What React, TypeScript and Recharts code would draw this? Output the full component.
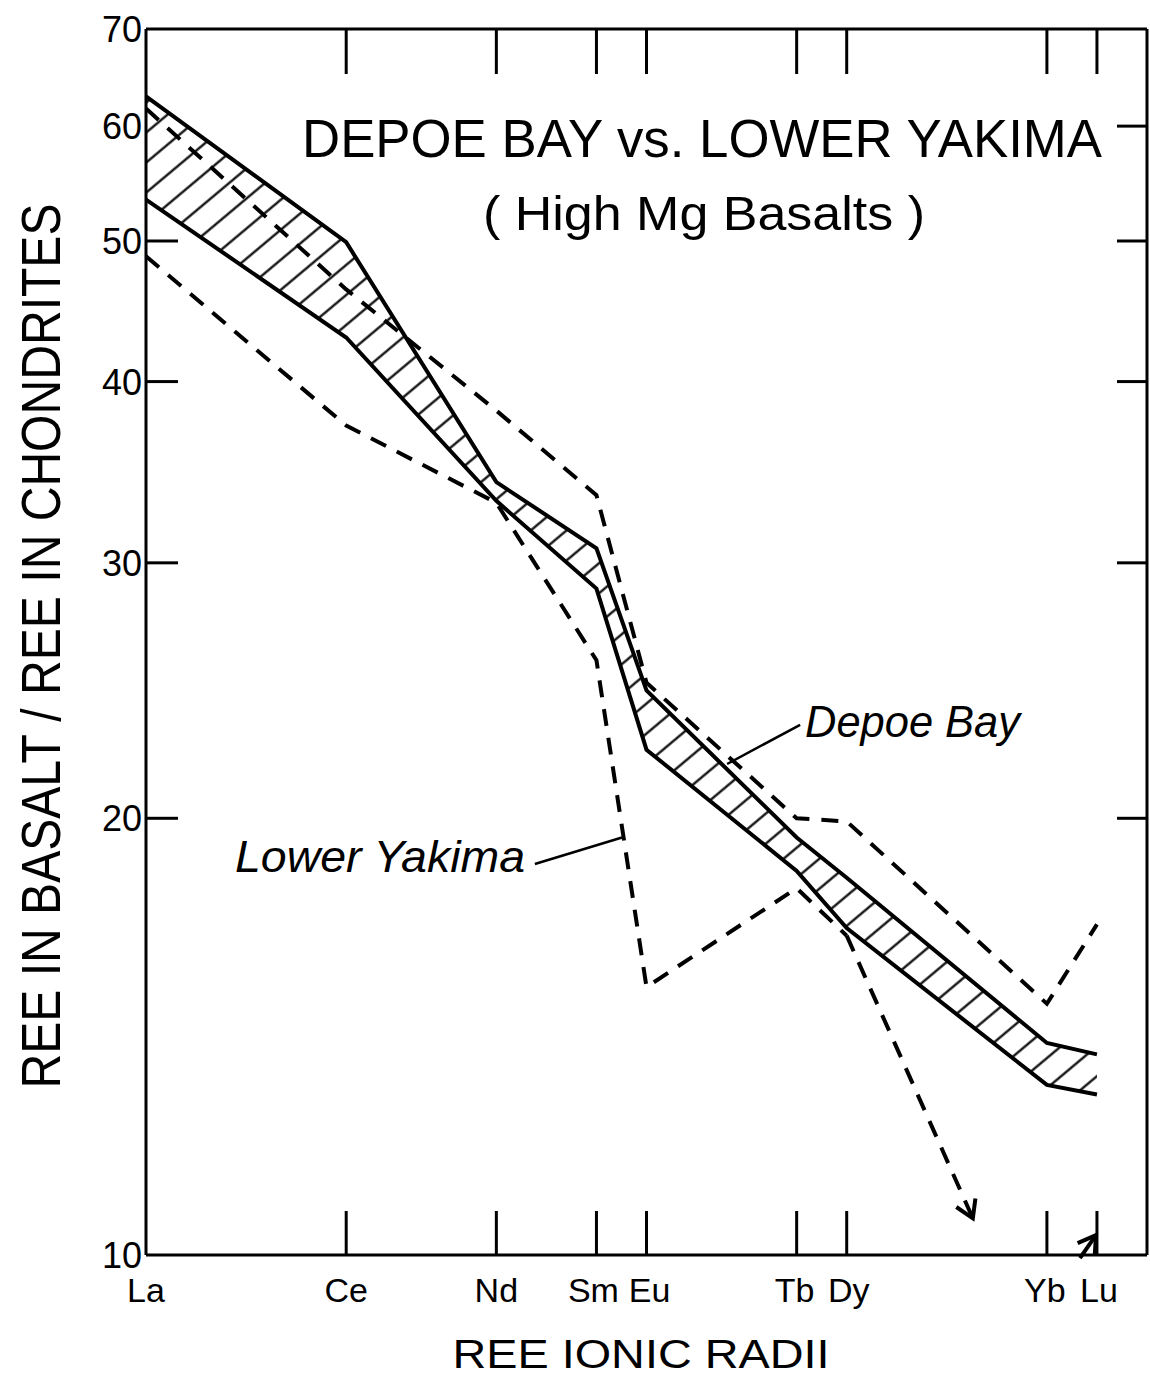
import React from "react";
import { Area, ComposedChart, Line, ReferenceLine, XAxis, YAxis } from "recharts";

const FONT = "'Liberation Sans', Arial, sans-serif";
const INK = "#000";

// REE in order of decreasing ionic radius, with their spacing along the x axis
const elements = ["La", "Ce", "Nd", "Sm", "Eu", "Tb", "Dy", "Yb", "Lu"];
const radiusPos = [0, 4, 7, 9, 10, 13, 14, 18, 19];
// small sideways nudges so close pairs of names don't touch
const labelNudge = [0, 0, 0, -3, 3, -2, 2, -2, 2];

// chondrite-normalised abundances (upper and lower bounds of each field)
const depoeBayHigh = [62.9, 49.9, 34.1, 30.7, 24.5, 19.4, 18.2, 14.0, 13.75];
const depoeBayLow = [53.4, 42.9, 33.1, 28.8, 22.3, 18.4, 16.8, 13.1, 12.9];
const yakimaHigh = [61.7, 46.3, 38.2, 33.4, 24.8, 20.0, 19.9, 14.9, 16.9];
const yakimaLow: (number | null)[] = [48.8, 37.3, 33.0, 25.7, 15.3, 17.9, 16.6, null, null];

const yTicks = [10, 20, 30, 40, 50, 60, 70];
const rightTicks = [20, 30, 40, 50, 60];

// Lower Yakima minimum falls off scale after Dy; arrows mark where it goes
const ybArrowEnd = { x: 16.52, y: 10.6 };
const luArrow = [
  { x: 18.66, y: 9.95 },
  { x: 18.98, y: 10.32 }
];

// leader lines for the two field labels
const depoeLeader = [
  { x: 11.61, y: 21.8 },
  { x: 13.07, y: 23.2 }
];
const yakimaLeader = [
  { x: 7.77, y: 18.6 },
  { x: 9.51, y: 19.4 }
];

const rows = elements.map((name, i) => ({
  name,
  pos: radiusPos[i],
  band: [depoeBayLow[i], depoeBayHigh[i]],
  depoeHigh: depoeBayHigh[i],
  depoeLow: depoeBayLow[i],
  yakimaHigh: yakimaHigh[i],
  yakimaLow: yakimaLow[i]
}));

const indexAt = (pos: number) => radiusPos.indexOf(pos);

function LeftTick(props: any) {
  const { x, y, payload } = props;
  const v = payload.value;
  const showLine = v > 10 && v < 60;
  return (
    <g>
      {showLine && <line x1={x} y1={y} x2={x + 32} y2={y} stroke={INK} strokeWidth={3} />}
      <text x={x - 4} y={y} dy="0.36em" textAnchor="end" fontSize={36} fontFamily={FONT} fill={INK}>
        {v}
      </text>
    </g>
  );
}

function RightTick(props: any) {
  const { x, y } = props;
  return <line x1={x} y1={y} x2={x - 30} y2={y} stroke={INK} strokeWidth={3} />;
}

function BottomTick(props: any) {
  const { x, y, payload } = props;
  const i = indexAt(payload.value);
  return (
    <g>
      {payload.value > 0 && <line x1={x} y1={y} x2={x} y2={y - 44} stroke={INK} strokeWidth={3} />}
      <text
        x={x + (labelNudge[i] ?? 0)}
        y={y + 47}
        textAnchor="middle"
        fontSize={34}
        fontFamily={FONT}
        fill={INK}
      >
        {elements[i] ?? ""}
      </text>
    </g>
  );
}

function TopTick(props: any) {
  const { x, y, payload } = props;
  if (payload.value <= 0) return <g />;
  return <line x1={x} y1={y} x2={x} y2={y + 45} stroke={INK} strokeWidth={3} />;
}

function ArrowShape(props: any) {
  const { x1, y1, x2, y2, dashed } = props;
  const ang = Math.atan2(y2 - y1, x2 - x1);
  const head = 20;
  const spread = 0.55;
  const ax1 = x2 - head * Math.cos(ang - spread);
  const ay1 = y2 - head * Math.sin(ang - spread);
  const ax2 = x2 - head * Math.cos(ang + spread);
  const ay2 = y2 - head * Math.sin(ang + spread);
  return (
    <g>
      <line
        x1={x1}
        y1={y1}
        x2={x2}
        y2={y2}
        stroke={INK}
        strokeWidth={4}
        strokeDasharray={dashed ? "17 12" : undefined}
      />
      <path d={`M${ax1},${ay1} L${x2},${y2} L${ax2},${ay2}`} fill="none" stroke={INK} strokeWidth={4} />
    </g>
  );
}

export default function App() {
  return (
    <div style={{ position: "absolute", left: 0, top: 0, width: 1150, height: 1375, background: "#fff" }}>
      <ComposedChart width={1150} height={1375} data={rows} margin={{ top: 28, right: 2, bottom: 119, left: 145 }}>
        <defs>
          <pattern id="hatch" patternUnits="userSpaceOnUse" width={23} height={23} patternTransform="rotate(-40)">
            <line x1={0} y1={11.5} x2={23} y2={11.5} stroke={INK} strokeWidth={2.2} />
          </pattern>
        </defs>
        <XAxis
          dataKey="pos"
          type="number"
          domain={[0, 20]}
          ticks={radiusPos}
          interval={0}
          height={1}
          tickSize={0}
          tickMargin={0}
          tickLine={false}
          axisLine={{ stroke: INK, strokeWidth: 3 }}
          tick={BottomTick}
        />
        <XAxis
          xAxisId="top"
          orientation="top"
          dataKey="pos"
          type="number"
          domain={[0, 20]}
          ticks={radiusPos}
          interval={0}
          height={1}
          tickSize={0}
          tickMargin={0}
          tickLine={false}
          axisLine={{ stroke: INK, strokeWidth: 3 }}
          tick={TopTick}
        />
        <YAxis
          scale="log"
          domain={[10, 70]}
          allowDataOverflow
          ticks={yTicks}
          interval={0}
          width={1}
          tickSize={0}
          tickMargin={0}
          tickLine={false}
          axisLine={{ stroke: INK, strokeWidth: 3 }}
          tick={LeftTick}
        />
        <YAxis
          yAxisId="right"
          orientation="right"
          scale="log"
          domain={[10, 70]}
          allowDataOverflow
          ticks={rightTicks}
          interval={0}
          width={1}
          tickSize={0}
          tickMargin={0}
          tickLine={false}
          axisLine={{ stroke: INK, strokeWidth: 3 }}
          tick={RightTick}
        />

        {/* Depoe Bay field: hatched band between its bounds */}
        <Area
          type="linear"
          dataKey="band"
          stroke="none"
          fill="url(#hatch)"
          fillOpacity={1}
          isAnimationActive={false}
        />
        <Line type="linear" dataKey="depoeHigh" stroke={INK} strokeWidth={4} dot={false} isAnimationActive={false} />
        <Line type="linear" dataKey="depoeLow" stroke={INK} strokeWidth={4} dot={false} isAnimationActive={false} />

        {/* Lower Yakima field: dashed bounds */}
        <Line
          type="linear"
          dataKey="yakimaHigh"
          stroke={INK}
          strokeWidth={4}
          strokeDasharray="17 12"
          dot={false}
          isAnimationActive={false}
        />
        <Line
          type="linear"
          dataKey="yakimaLow"
          stroke={INK}
          strokeWidth={4}
          strokeDasharray="17 12"
          dot={false}
          connectNulls={false}
          isAnimationActive={false}
        />

        <ReferenceLine
          segment={[{ x: radiusPos[6], y: yakimaLow[6] as number }, ybArrowEnd]}
          ifOverflow="visible"
          shape={(p: any) => <ArrowShape {...p} dashed />}
        />
        <ReferenceLine segment={luArrow} ifOverflow="visible" shape={(p: any) => <ArrowShape {...p} />} />
        <ReferenceLine segment={depoeLeader} ifOverflow="visible" stroke={INK} strokeWidth={2.5} />
        <ReferenceLine segment={yakimaLeader} ifOverflow="visible" stroke={INK} strokeWidth={2.5} />
      </ComposedChart>

      <svg
        width={1150}
        height={1375}
        style={{ position: "absolute", left: 0, top: 0, pointerEvents: "none" }}
        fontFamily={FONT}
        fill={INK}
      >
        <text x={702} y={157} textAnchor="middle" fontSize={54} textLength={800} lengthAdjust="spacingAndGlyphs">
          DEPOE BAY vs. LOWER YAKIMA
        </text>
        <text x={704} y={230} textAnchor="middle" fontSize={48} textLength={442} lengthAdjust="spacingAndGlyphs">
          ( High Mg Basalts )
        </text>
        <text
          x={60}
          y={646}
          transform="rotate(-90 60 646)"
          textAnchor="middle"
          fontSize={56}
          textLength={885}
          lengthAdjust="spacingAndGlyphs"
        >
          REE IN BASALT / REE IN CHONDRITES
        </text>
        <text x={641} y={1368} textAnchor="middle" fontSize={40} textLength={377} lengthAdjust="spacingAndGlyphs">
          REE IONIC RADII
        </text>
        <text x={805} y={737} fontSize={44} fontStyle="italic" textLength={215} lengthAdjust="spacingAndGlyphs">
          Depoe Bay
        </text>
        <text x={235} y={872} fontSize={44} fontStyle="italic" textLength={290} lengthAdjust="spacingAndGlyphs">
          Lower Yakima
        </text>
      </svg>
    </div>
  );
}
